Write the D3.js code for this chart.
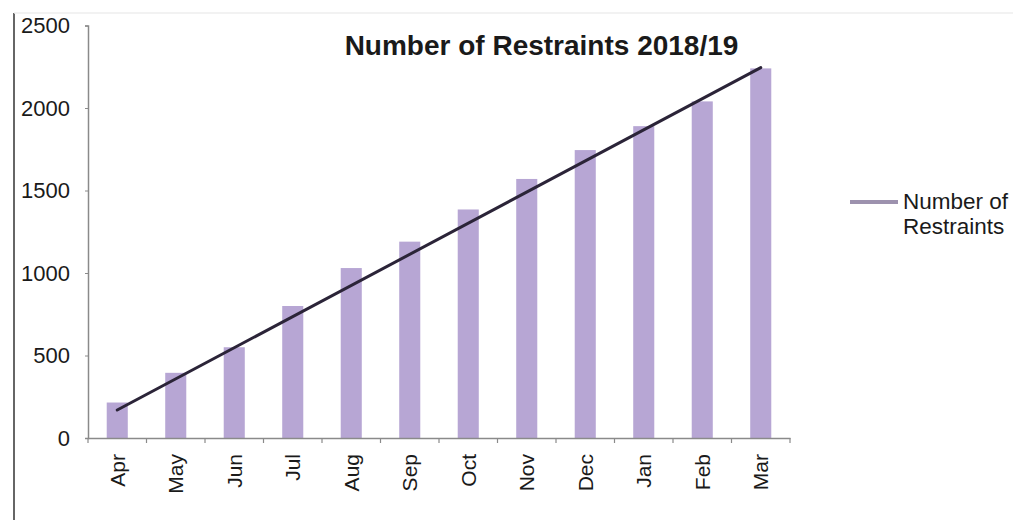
<!DOCTYPE html>
<html>
<head>
<meta charset="utf-8">
<script src="https://cdn.jsdelivr.net/npm/d3@7"></script>
<style>
  html, body { margin: 0; padding: 0; background: #ffffff; }
  svg { display: block; font-family: "Liberation Sans", Arial, sans-serif; }
</style>
</head>
<body>
<svg id="chart" width="1013" height="520"></svg>
<script>
// Monthly restraint counts, April 2018 to March 2019
const months = ["Apr", "May", "Jun", "Jul", "Aug", "Sep", "Oct", "Nov", "Dec", "Jan", "Feb", "Mar"];
const restraints = [215, 395, 550, 800, 1030, 1190, 1385, 1570, 1745, 1890, 2040, 2240];
// Linear trend line values at the first and last month
const trendEnds = [170, 2245];
const yTicks = [0, 500, 1000, 1500, 2000, 2500];
const titleText = "Number of Restraints 2018/19";
const legendLines = ["Number of", "Restraints"];

const svg = d3.select("#chart");

const x = d3.scaleBand()
  .domain(months)
  .range([88, 790])
  .paddingInner(0.64)
  .paddingOuter(0.32);

const y = d3.scaleLinear()
  .domain([0, 2500])
  .range([438, 25.5]);

// outer frame edges
svg.append("line")
  .attr("x1", 14).attr("x2", 14).attr("y1", 13).attr("y2", 520)
  .attr("stroke", "#666").attr("stroke-width", 2);
svg.append("line")
  .attr("x1", 14).attr("x2", 1013).attr("y1", 13).attr("y2", 13)
  .attr("stroke", "#eeeeee").attr("stroke-width", 1.5);

// bars
svg.append("g")
  .selectAll("rect")
  .data(months)
  .join("rect")
  .attr("x", d => x(d))
  .attr("y", (d, i) => y(restraints[i]))
  .attr("width", x.bandwidth())
  .attr("height", (d, i) => y(0) - y(restraints[i]))
  .attr("fill", "#b7a6d4");

// y axis
const yAxis = svg.append("g")
  .attr("transform", "translate(88,0)")
  .call(d3.axisLeft(y).tickValues(yTicks).tickSize(3).tickPadding(15).tickFormat(d3.format("d")));
yAxis.select(".domain").attr("stroke", "#8a8a8a").attr("stroke-width", 1.5);
yAxis.selectAll(".tick line").attr("stroke", "#8a8a8a");
yAxis.selectAll(".tick text")
  .attr("font-size", 22)
  .attr("fill", "#1a1a1a")
  .attr("font-family", "Liberation Sans, Arial, sans-serif");

// x axis line with ticks between categories
const xAxis = svg.append("g")
  .attr("transform", `translate(0,${y(0)})`)
  .call(d3.axisBottom(x).tickSize(0).tickPadding(16));
xAxis.select(".domain").attr("stroke", "#8a8a8a").attr("stroke-width", 1.5);
xAxis.selectAll(".tick text")
  .attr("font-size", 21)
  .attr("fill", "#1a1a1a")
  .attr("font-family", "Liberation Sans, Arial, sans-serif")
  .attr("transform", "rotate(-90)")
  .attr("text-anchor", "end")
  .attr("dy", "0.35em")
  .attr("x", -16)
  .attr("y", 0);

const boundaries = months.map(m => x(m) - x.step() * x.paddingInner() / 2).concat([x.range()[1]]);
svg.append("g")
  .selectAll("line")
  .data(boundaries)
  .join("line")
  .attr("x1", d => d).attr("x2", d => d)
  .attr("y1", y(0)).attr("y2", y(0) + 5)
  .attr("stroke", "#8a8a8a").attr("stroke-width", 1.2);

// trend line
const cx = m => x(m) + x.bandwidth() / 2;
svg.append("line")
  .attr("x1", cx(months[0])).attr("y1", y(trendEnds[0]))
  .attr("x2", cx(months[months.length - 1])).attr("y2", y(trendEnds[1]))
  .attr("stroke", "#2b2438").attr("stroke-width", 3)
  .attr("stroke-linecap", "round");

// title
svg.append("text")
  .attr("x", 541.5).attr("y", 55)
  .attr("text-anchor", "middle")
  .attr("font-size", 28)
  .attr("font-weight", "bold")
  .attr("fill", "#1a1a1a")
  .text(titleText);

// legend
svg.append("line")
  .attr("x1", 850).attr("x2", 898).attr("y1", 202).attr("y2", 202)
  .attr("stroke", "#9d92ae").attr("stroke-width", 4);
svg.append("g")
  .selectAll("text")
  .data(legendLines)
  .join("text")
  .attr("x", 903)
  .attr("y", (d, i) => 209 + i * 25)
  .attr("font-size", 22.5)
  .attr("fill", "#1a1a1a")
  .text(d => d);
</script>
</body>
</html>
